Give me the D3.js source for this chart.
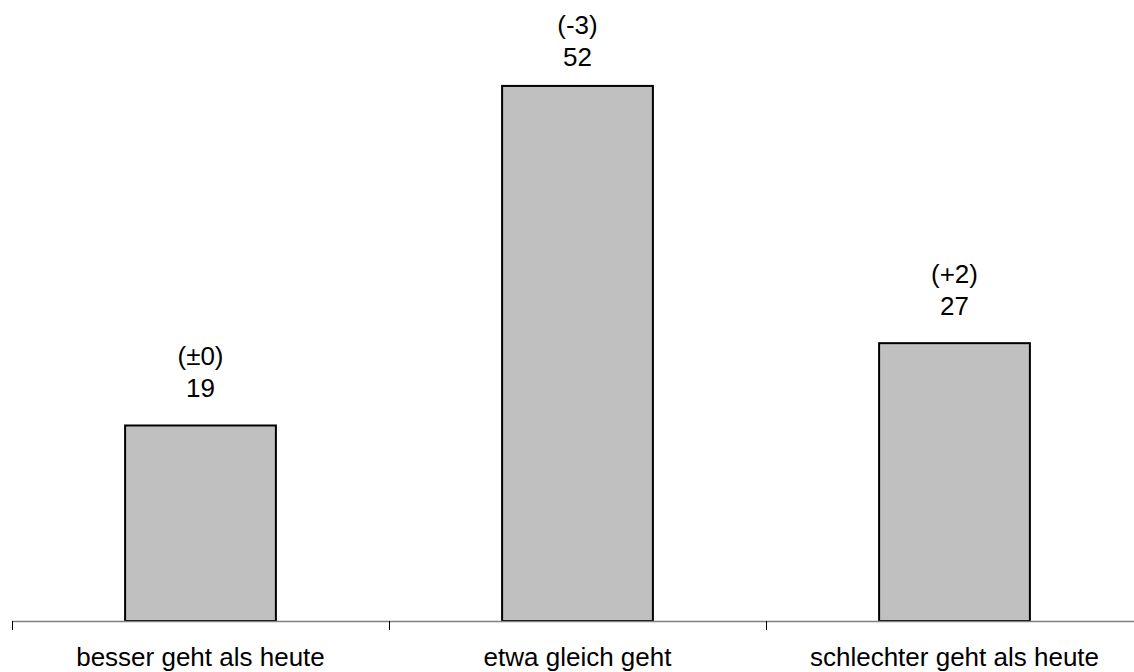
<!DOCTYPE html>
<html>
<head>
<meta charset="utf-8">
<script src="https://cdn.jsdelivr.net/npm/d3@7"></script>
<style>
  html, body { margin: 0; padding: 0; background: #fff; }
  svg { display: block; }
  text { font-family: "Liberation Sans", Arial, sans-serif; fill: #000; }
</style>
</head>
<body>
<svg id="chart" width="1134" height="672"></svg>
<script>
const categories = ["besser geht als heute", "etwa gleich geht", "schlechter geht als heute"];
const values = [19, 52, 27];
const changes = ["(±0)", "(-3)", "(+2)"];

const svg = d3.select("#chart");
const x = d3.scaleBand().domain(categories).range([12, 1143]).paddingInner(0.6).paddingOuter(0.3);
const step = x.step();
const y = d3.scaleLinear().domain([0, 60]).range([621, 3.6]);

// bars
svg.selectAll("rect.bar").data(values).enter().append("rect")
  .attr("class", "bar")
  .attr("x", (d, i) => x(categories[i]))
  .attr("y", d => y(d))
  .attr("width", x.bandwidth())
  .attr("height", d => y(0) - y(d))
  .attr("fill", "#c0c0c0")
  .attr("stroke", "#000")
  .attr("stroke-width", 2);

// axis
const x0 = 12;
svg.append("line")
  .attr("x1", x0).attr("x2", x0 + step * categories.length)
  .attr("y1", y(0) + 0.5).attr("y2", y(0) + 0.5)
  .attr("stroke", "#808080").attr("stroke-width", 1.5);
const tickPos = d3.range(categories.length + 1).map(i => x0 + i * step);
svg.selectAll("line.tick").data(tickPos).enter().append("line")
  .attr("class", "tick")
  .attr("x1", d => Math.round(d) + 0.5).attr("x2", d => Math.round(d) + 0.5)
  .attr("y1", y(0)).attr("y2", y(0) + 9)
  .attr("stroke", "#000").attr("stroke-width", 1);

// category labels
svg.selectAll("text.cat").data(categories).enter().append("text")
  .attr("class", "cat")
  .attr("x", d => x(d) + x.bandwidth() / 2)
  .attr("y", 666)
  .attr("text-anchor", "middle")
  .attr("font-size", 26)
  .text(d => d);

// value labels (kept inside top margin)
const numY = d => Math.max(y(d) - 28, 66);
svg.selectAll("text.val").data(values).enter().append("text")
  .attr("class", "val")
  .attr("x", (d, i) => x(categories[i]) + x.bandwidth() / 2)
  .attr("y", d => numY(d))
  .attr("text-anchor", "middle")
  .attr("font-size", 26)
  .text(d => d);

svg.selectAll("text.chg").data(values).enter().append("text")
  .attr("class", "chg")
  .attr("x", (d, i) => x(categories[i]) + x.bandwidth() / 2)
  .attr("y", d => numY(d) - 32)
  .attr("text-anchor", "middle")
  .attr("font-size", 26)
  .text((d, i) => changes[i]);
</script>
</body>
</html>
